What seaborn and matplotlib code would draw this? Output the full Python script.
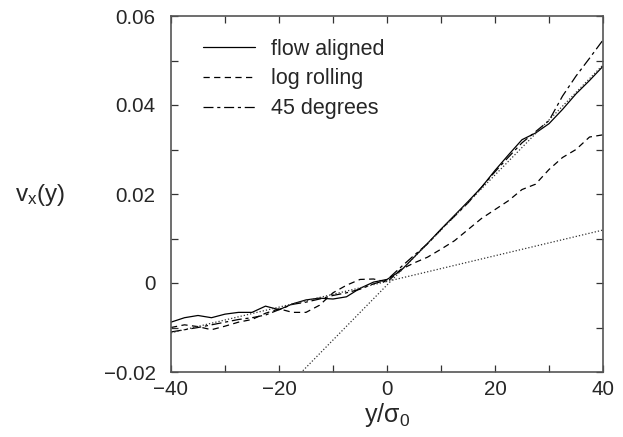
import numpy as np
import pandas as pd
import matplotlib
matplotlib.use("Agg")
import matplotlib.pyplot as plt
import seaborn as sns

# ---- data ----
y_pos = [-40, -37.5, -35, -32.5, -30, -27.5, -25, -22.5, -20, -17.5, -15, -12.5,
         -10, -7.5, -5, -2.5, 0, 2.5, 5, 7.5, 10, 12.5, 15, 17.5, 20, 22.5, 25,
         27.5, 30, 32.5, 35, 37.5, 40]

flow_aligned = [-0.0088, -0.0078, -0.0073, -0.0078, -0.0070, -0.0066, -0.0066, -0.0052,
                -0.0060, -0.0047, -0.0038, -0.0034, -0.0036, -0.0031, -0.0012, 0.0002,
                0.0008, 0.0027, 0.0058, 0.0089, 0.0121, 0.0152, 0.0183, 0.0215, 0.0253,
                0.0288, 0.0322, 0.0337, 0.0358, 0.0390, 0.0425, 0.0455, 0.0487]

log_rolling = [-0.0100, -0.0094, -0.0098, -0.0105, -0.0097, -0.0088, -0.0082, -0.0068,
               -0.0058, -0.0066, -0.0066, -0.0050, -0.0022, -0.0005, 0.0008, 0.0009,
               0.0002, 0.0030, 0.0045, 0.0058, 0.0076, 0.0095, 0.0120, 0.0145, 0.0165,
               0.0185, 0.0210, 0.0222, 0.0255, 0.0282, 0.0300, 0.0328, 0.0333]

deg45 = [-0.0110, -0.0105, -0.0100, -0.0094, -0.0088, -0.0082, -0.0078, -0.0072,
         -0.0060, -0.0048, -0.0043, -0.0036, -0.0028, -0.0022, -0.0014, -0.0002,
         0.0007, 0.0035, 0.0062, 0.0088, 0.0120, 0.0150, 0.0180, 0.0215, 0.0250,
         0.0283, 0.0315, 0.0340, 0.0365, 0.0420, 0.0465, 0.0505, 0.0546]

fit_x = [-40, 40]
fit_steep = [-0.0499, 0.0490]
fit_shallow = [-0.0112, 0.0119]

labels = ["flow aligned", "log rolling", "45 degrees"]

# ---- style ----
sns.set_style("ticks")
plt.rcParams["font.family"] = ["Liberation Sans", "DejaVu Sans"]
plt.rcParams["mathtext.fontset"] = "custom"
plt.rcParams["mathtext.rm"] = "Liberation Sans"
plt.rcParams["mathtext.it"] = "Liberation Sans"

fig = plt.figure(figsize=(6.23, 4.37), dpi=100)
ax = fig.add_axes([171 / 623, 1 - 372 / 437, 432 / 623, 356 / 437])

styles = ["-", (0, (5, 3.5)), (0, (8, 3, 2.5, 3))]
series = [flow_aligned, log_rolling, deg45]
for vals, lab, ls in zip(series, labels, styles):
    sns.lineplot(x=y_pos, y=vals, ax=ax, color="black", linewidth=0.9,
                 linestyle=ls, label=lab)

for fv in (fit_steep, fit_shallow):
    sns.lineplot(x=fit_x, y=fv, ax=ax, color="#333333", linewidth=0.9,
                 linestyle=(0, (1, 1.6)), legend=False)

ax.set_xlim(-40, 40)
ax.set_ylim(-0.02, 0.06)
ax.set_xticks([-40, -20, 0, 20, 40])
ax.set_xticks([-30, -10, 10, 30], minor=True)
ax.set_yticks([-0.02, 0, 0.02, 0.04, 0.06])
ax.set_yticks([-0.01, 0.01, 0.03, 0.05], minor=True)
ax.set_xticklabels(["\u221240", "\u221220", "0", "20", "40"])
ax.set_yticklabels(["\u22120.02", "0", "0.02", "0.04", "0.06"])
ax.tick_params(which="both", direction="in", top=True, right=True,
               length=5, width=0.9, color="#333333", labelsize=14.8)
ax.tick_params(axis="y", which="major", pad=11)
ax.tick_params(axis="x", which="major", pad=6)
for s in ax.spines.values():
    s.set_color("#555555")
    s.set_linewidth(1.2)

ax.set_xlabel(r"y/$\mathregular{\sigma_0}$", fontsize=18, labelpad=1)
ax.set_ylabel(r"v$_\mathregular{x}$(y)", fontsize=17.5, rotation=0, va="center", ha="center")
ax.yaxis.set_label_coords(-0.303, 0.497)

leg = ax.legend(loc="upper left", bbox_to_anchor=(0.055, 0.96), frameon=False,
                fontsize=15.5, handlelength=2.4, handletextpad=0.75,
                labelspacing=0.4, borderaxespad=0)

fig.savefig("out.png", dpi=100)
